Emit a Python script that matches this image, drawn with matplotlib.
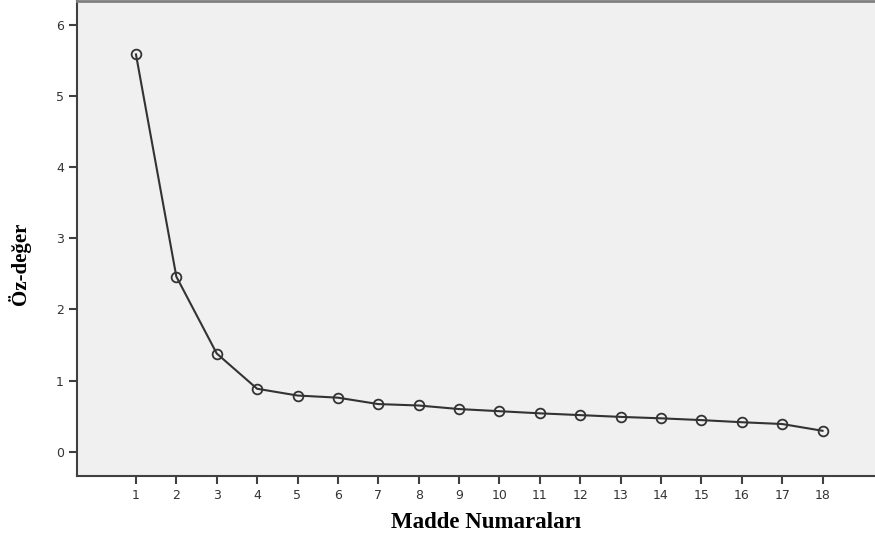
import numpy as np
import matplotlib.pyplot as plt

# scree plot verileri
madde = list(range(1, 19))
oz_deger = [5.58, 2.46, 1.38, 0.885, 0.79, 0.76, 0.67, 0.65, 0.60,
            0.57, 0.54, 0.515, 0.49, 0.47, 0.445, 0.415, 0.39, 0.295]
y_ticks = [0, 1, 2, 3, 4, 5, 6]

fig = plt.figure(figsize=(8.75, 5.39), dpi=100)
ax = fig.add_axes([77 / 875, 63 / 539, 1 - 77 / 875, 475 / 539])
ax.set_facecolor("#f0f0f0")

ax.plot(madde, oz_deger, color="#333333", lw=1.5, marker="o", ms=7,
        mfc="none", mec="#333333", mew=1.3)

ax.set_xlim(-0.46, 19.3)
ax.set_ylim(-0.34, 6.33)
ax.set_xticks(madde)
ax.set_yticks(y_ticks)
ax.tick_params(axis="both", direction="out", length=6, width=1.5,
               color="#404040", labelsize=9, labelcolor="#333333")

ax.spines["left"].set_color("#404040")
ax.spines["left"].set_linewidth(1.5)
ax.spines["bottom"].set_color("#404040")
ax.spines["bottom"].set_linewidth(1.5)
ax.spines["top"].set_color("#808080")
ax.spines["top"].set_linewidth(2)
ax.spines["right"].set_visible(False)

# eksen başlıkları (referanstaki konumlara göre)
fig.text(486 / 875, 1 - 523 / 539, "Madde Numaraları", family="Liberation Serif",
         fontsize=16.5, fontweight="bold", ha="center", va="center")
fig.text(19 / 875, 1 - 264 / 539, "Öz-değer", family="Liberation Serif",
         fontsize=15, fontweight="bold", ha="center", va="center", rotation=90)

fig.savefig("out.png", dpi=100)
